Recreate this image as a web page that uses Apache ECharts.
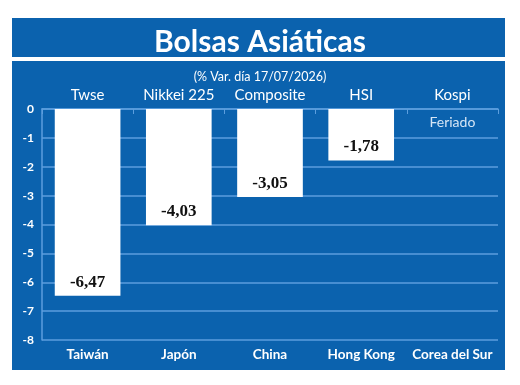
<!DOCTYPE html>
<html>
<head>
    <meta charset="utf-8">
    <title>Bolsas Asiáticas</title>
    <script src="https://cdn.jsdelivr.net/npm/echarts@6.0.0/dist/echarts.min.js"></script>
    <style>
        html, body { margin: 0; padding: 0; background: #fff; }
    </style>
</head>
<body>
    <div id="chart" style="width: 520px;height:385px"></div>

    <script>
        const indices = ['Twse', 'Nikkei 225', 'Composite', 'HSI', 'Kospi']
        const countries = ['Taiwán', 'Japón', 'China', 'Hong Kong', 'Corea del Sur']
        const changes = [-6.47, -4.03, -3.05, -1.78, 0]
        const notes = ['', '', '', '', 'Feriado']

        const blue = '#0b62ae'
        const gridBlue = '#5c9ede'
        const sans = 'Lato'

        const chart = echarts.init(document.getElementById('chart'))
        chart.setOption({
            backgroundColor: '#fff',
            graphic: [
                { type: 'rect', z: -10, shape: { x: 12, y: 18, width: 493, height: 39 }, style: { fill: blue } },
                { type: 'rect', z: -10, shape: { x: 12, y: 61, width: 493, height: 309 }, style: { fill: blue } }
            ],
            title: [
                {
                    text: 'Bolsas Asiáticas', left: 'center', top: 17,
                    textStyle: { color: '#fff', fontSize: 30, fontWeight: 'bold', fontFamily: 'Lato', lineHeight: 40 }
                },
                {
                    text: '(% Var. día 17/07/2026)', left: 'center', top: 64,
                    textStyle: { color: '#fff', fontSize: 12.5, fontWeight: 'normal', fontFamily: sans, lineHeight: 16 }
                }
            ],
            grid: { left: 42, right: 22, top: 109, bottom: 45 },
            xAxis: [
                {
                    type: 'category', data: indices, position: 'top',
                    axisLine: { show: true, lineStyle: { color: gridBlue, width: 1.5 } },
                    axisTick: { show: true, inside: true, length: 5, lineStyle: { color: gridBlue } },
                    axisLabel: { color: '#fff', fontSize: 15, fontFamily: sans, margin: 6, interval: 0 }
                },
                {
                    type: 'category', data: countries, position: 'bottom',
                    axisLine: { show: false }, axisTick: { show: false },
                    axisLabel: { color: '#fff', fontSize: 13.5, fontWeight: 'bold', fontFamily: sans, margin: 8, interval: 0 }
                }
            ],
            yAxis: {
                type: 'value', min: -8, max: 0, interval: 1,
                axisLine: { show: true, lineStyle: { color: gridBlue, width: 1.5 } },
                axisTick: { show: false },
                axisLabel: { color: '#fff', fontSize: 12, fontWeight: 'bold', fontFamily: sans, margin: 8 },
                splitLine: { lineStyle: { color: gridBlue, width: 1.5 } }
            },
            series: [{
                type: 'bar',
                xAxisIndex: 0,
                barWidth: '72%',
                itemStyle: { color: '#fff' },
                data: changes.map((v, i) => notes[i]
                    ? {
                        value: v,
                        label: {
                            show: true, position: 'bottom', distance: 6, formatter: notes[i],
                            color: '#d6e6f6', fontSize: 14, fontWeight: 'normal', fontFamily: sans
                        }
                    }
                    : v),
                label: {
                    show: true, position: 'insideBottom', distance: 5,
                    formatter: p => p.value.toFixed(2).replace('.', ','),
                    color: '#111', fontSize: 17, fontWeight: 'bold', fontFamily: 'Liberation Serif'
                },
                animation: false
            }]
        })
    </script>
</body>
</html>
